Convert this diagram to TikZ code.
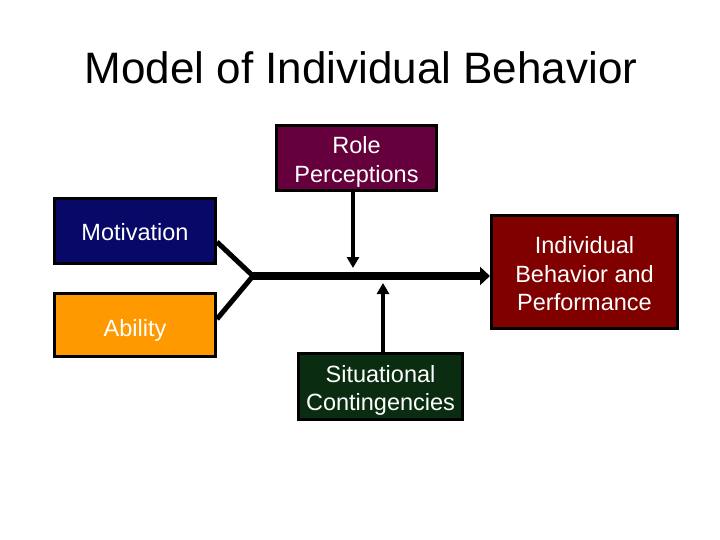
\documentclass[tikz,border=0pt]{standalone}
\usepackage{fontspec}
\setmainfont{Liberation Sans}
\usetikzlibrary{calc,arrows.meta}
\definecolor{motblue}{RGB}{8,8,105}
\definecolor{abiorange}{RGB}{255,153,0}
\definecolor{rolepurple}{RGB}{102,0,60}
\definecolor{indred}{RGB}{128,0,0}
\definecolor{sitgreen}{RGB}{10,45,18}
\tikzset{
  box/.style={draw=black, line width=3pt, rectangle, inner sep=0pt},
  txt/.style={inner sep=0pt, align=center, text=white, font=\fontsize{23.5}{28.5}\selectfont},
  diag/.style={line width=5pt, draw=black},
  bar/.style={line width=8pt, draw=black, -{Triangle[length=10pt,width=18pt]}},
  vline/.style={line width=4pt, draw=black, -{Triangle[length=11pt,width=12pt]}}
}
\begin{document}
\begin{tikzpicture}[x=1pt,y=-1pt]
\useasboundingbox (0,0) rectangle (720,540);
\node[anchor=base, font=\fontsize{44}{50}\selectfont] (title) at (361,84) {Model of Individual Behavior};
\node[box, fill=rolepurple, minimum width=160pt, minimum height=65pt,
  label={[txt, yshift=-4pt]center:Role\\Perceptions}] (role) at (356.5,158) {};
\node[box, fill=motblue, minimum width=161pt, minimum height=65pt,
  label={[txt, yshift=-1pt]center:Motivation}] (mot) at (135,231) {};
\node[box, fill=abiorange, minimum width=161pt, minimum height=63pt,
  label={[txt, yshift=-5pt]center:Ability}] (abi) at (135,325) {};
\node[box, fill=indred, minimum width=186pt, minimum height=113pt,
  label={[txt, yshift=-2pt]center:Individual\\Behavior and\\Performance}] (ind) at (584.5,272) {};
\node[box, fill=sitgreen, minimum width=164pt, minimum height=66pt,
  label={[txt, yshift=-4pt]center:Situational\\Contingencies}] (sit) at (380.5,386.5) {};
\coordinate (J) at (253,276);
\coordinate (R) at (353,268);
\coordinate (S) at (383,283);
\draw[diag] ($(mot.east)+(0,11)$) -- (J);
\draw[diag] ($(abi.east)+(0,-6)$) -- (J);
\draw[bar] ($(J)+(-2,0)$) -- (J -| ind.west);
\draw[vline] (R |- role.south) -- (R);
\draw[vline] (S |- sit.north) -- (S);
\end{tikzpicture}
\end{document}
